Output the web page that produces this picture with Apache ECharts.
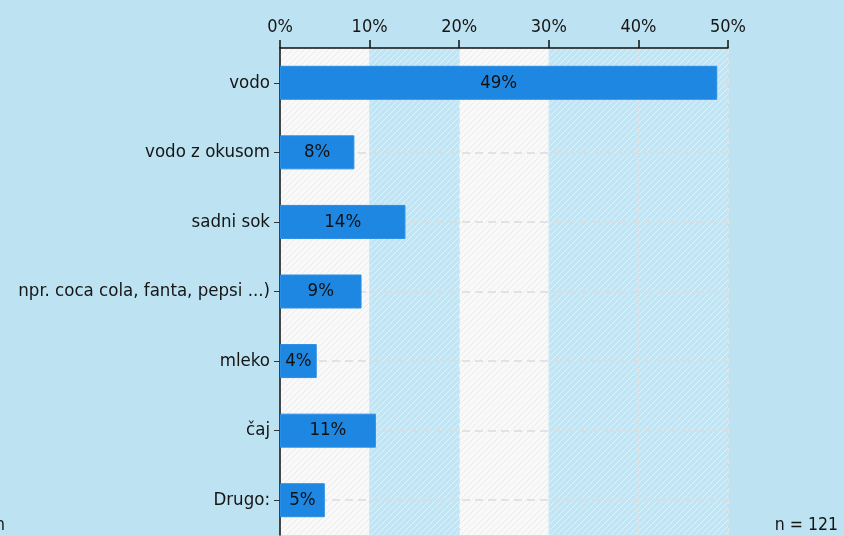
<!DOCTYPE html>
<html>
<head>
<meta charset="utf-8">
<script src="https://cdn.jsdelivr.net/npm/echarts@6/dist/echarts.min.js"></script>
<style>
html,body{margin:0;padding:0;background:#bde2f1;}
#c{width:844px;height:536px;}
</style>
</head>
<body>
<div id="c"></div>
<script>
const categories = ['vodo', 'vodo z okusom', 'sadni sok', 'npr. coca cola, fanta, pepsi ...)', 'mleko', 'čaj', 'Drugo:'];
const values = [48.8, 8.3, 14.0, 9.1, 4.1, 10.7, 5.0];
const xTicks = [0, 10, 20, 30, 40, 50];
const sampleSize = 'n = 121';

function hatch(base, line) {
  const c = document.createElement('canvas');
  c.width = 6; c.height = 6;
  const g = c.getContext('2d');
  g.fillStyle = base; g.fillRect(0, 0, 6, 6);
  g.strokeStyle = line; g.lineWidth = 1;
  g.beginPath();
  g.moveTo(-1, 7); g.lineTo(7, -1);
  g.moveTo(-4, 4); g.lineTo(4, -4);
  g.moveTo(2, 10); g.lineTo(10, 2);
  g.stroke();
  return { image: c, repeat: 'repeat' };
}
const whiteBand = hatch('#f9f9f9', '#ebebeb');
const blueBand = hatch('#c3e4f3', '#e0f1f9');

const FONT = '"DejaVu Sans Condensed", "DejaVu Sans", sans-serif';
const chart = echarts.init(document.getElementById('c'));
chart.setOption({
  backgroundColor: '#bde2f1',
  animation: false,
  textStyle: { fontFamily: FONT },
  grid: { left: 280, right: 116, top: 48, bottom: 1, containLabel: false, outerBoundsMode: 'none' },
  xAxis: {
    type: 'value', position: 'top', min: xTicks[0], max: xTicks[xTicks.length - 1], interval: 10,
    z: 0,
    axisLine: { show: true, lineStyle: { color: '#111', width: 1.5 } },
    axisTick: { show: true, length: 8, inside: false, lineStyle: { color: '#111', width: 1.5 } },
    axisLabel: { formatter: v => v + '%', color: '#151515', fontSize: 18, margin: 12, fontFamily: FONT },
    splitLine: { show: true, lineStyle: { color: '#e2e2e2', type: [6, 4], width: 1 } },
    splitArea: { show: true, areaStyle: { color: [whiteBand, blueBand, whiteBand, blueBand, blueBand] } }
  },
  yAxis: {
    type: 'category', data: categories, inverse: true,
    z: 1,
    axisLine: { show: true, lineStyle: { color: '#111', width: 1.5 } },
    axisTick: { show: true, alignWithLabel: true, length: 6, lineStyle: { color: '#333' } },
    axisLabel: { color: '#151515', fontSize: 18.5, margin: 10, fontFamily: FONT },
    splitLine: { show: true, alignWithLabel: true, lineStyle: { color: '#dcdcdc', type: [8, 5], width: 1.5 } }
  },
  series: [{
    type: 'bar', data: values, barWidth: 34,
    itemStyle: { color: '#1e87e2', borderColor: '#2a8ee6', borderWidth: 1 },
    label: { show: true, position: 'inside', formatter: p => Math.round(p.value) + '%', color: '#111', fontSize: 18.5, fontFamily: FONT },
    z: 3
  }],
  graphic: [
    { type: 'text', right: 6, top: 516, style: { text: sampleSize, fontSize: 17.5, fill: '#151515', fontFamily: FONT } },
    { type: 'text', left: -5, top: 516, style: { text: 'n', fontSize: 17.5, fill: '#151515', fontFamily: FONT } }
  ]
});
</script>
</body>
</html>
